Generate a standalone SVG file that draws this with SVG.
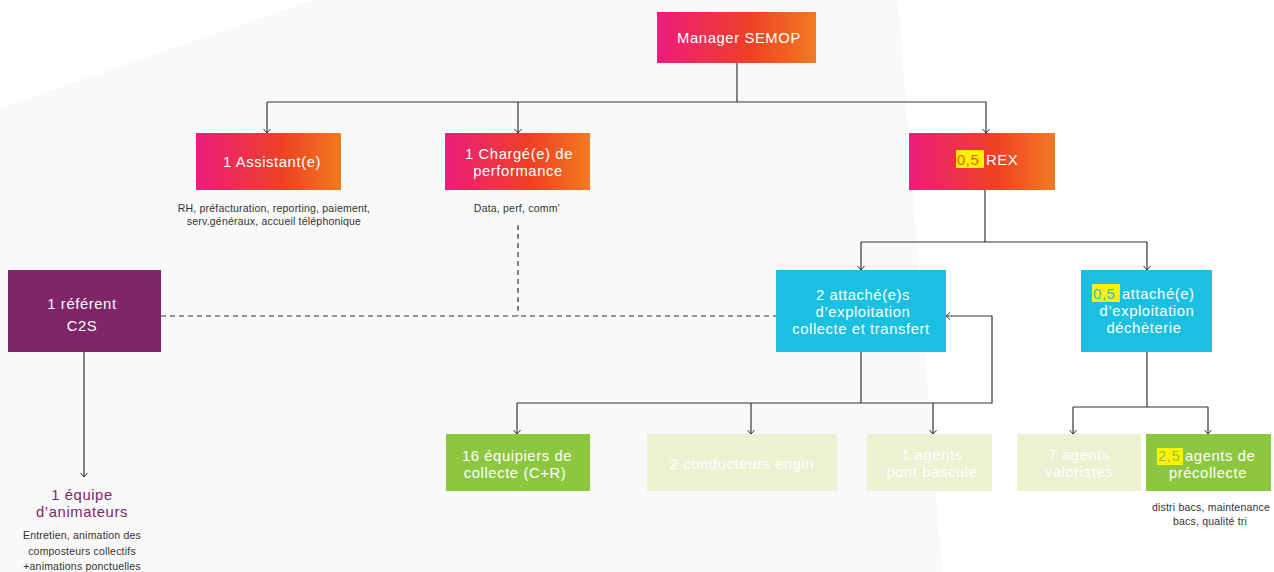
<svg xmlns="http://www.w3.org/2000/svg" width="1274" height="572" viewBox="0 0 1274 572">
<style>
.t{font-family:"Liberation Sans",Arial,sans-serif;font-size:14.8px;letter-spacing:0.6px;fill:#ffffff;text-anchor:middle}
.ts{font-family:"Liberation Sans",Arial,sans-serif;font-size:10.5px;letter-spacing:0.2px;fill:#333333;text-anchor:middle}
.st{text-anchor:start}
.c{fill:none;stroke:#333333;stroke-width:1.2}
.a{marker-end:url(#arr)}
.d{stroke-dasharray:5,4}
.hl{fill:#fff200}
.g{fill:url(#grad)}
.cy{fill:#1bbfdf}
.gr{fill:#8dc63f}
.lg{fill:#eaf2d1}
.pu{fill:#7f2568}
</style>
<defs>
<linearGradient id="grad" x1="0" y1="0" x2="1" y2="0">
<stop offset="0" stop-color="#ec1c7d"/>
<stop offset="0.6" stop-color="#ee4224"/>
<stop offset="1" stop-color="#f47a20"/>
</linearGradient>
<marker id="arr" markerWidth="10" markerHeight="10" refX="7" refY="5" orient="auto" markerUnits="userSpaceOnUse">
<path d="M3,1.5 L7,5 L3,8.5" fill="none" stroke="#333333" stroke-width="1"/>
</marker>
</defs>
<rect x="0" y="0" width="1274" height="572" fill="#ffffff"/>
<polygon points="313,0 898,0 942,572 0,572 0,108" fill="#f9f9f9"/>

<g id="connectors">
<path class="c" d="M737,63 V102"/>
<path class="c" d="M267,102 H986" stroke-width="1.6"/>
<path class="c a" d="M267,102 V133"/>
<path class="c a" d="M518,102 V133"/>
<path class="c a" d="M986,102 V133"/>
<path class="c" d="M985,190 V242"/>
<path class="c" d="M861,242 H1147"/>
<path class="c a" d="M861,242 V270"/>
<path class="c a" d="M1147,242 V270"/>
<path class="c" d="M861,352 V403"/>
<path class="c a" d="M517,403 H992 V316 H946"/>
<path class="c a" d="M517,403 V434"/>
<path class="c a" d="M751,403 V434"/>
<path class="c a" d="M933,403 V434"/>
<path class="c" d="M1147,352 V407"/>
<path class="c" d="M1073,407 H1208"/>
<path class="c a" d="M1073,407 V434"/>
<path class="c a" d="M1208,407 V434"/>
<path class="c a" d="M84,352 V477"/>
<path class="c d" d="M518,225 V316"/>
<path class="c d" d="M161,316 H776"/>
</g>

<g id="manager">
<rect class="g" x="657" y="12" width="159" height="51"/>
<text class="t" x="739" y="43">Manager SEMOP</text>
</g>

<g id="assistant">
<rect class="g" x="196" y="133" width="145" height="57"/>
<text class="t" x="272" y="167">1 Assistant(e)</text>
<text class="ts" x="274" y="212">RH, préfacturation, reporting, paiement,</text>
<text class="ts" x="274" y="225">serv.généraux,  accueil téléphonique</text>
</g>

<g id="charge">
<rect class="g" x="445" y="133" width="145" height="57"/>
<text class="t" x="519" y="159">1 Chargé(e) de</text>
<text class="t" x="518" y="176">performance</text>
<text class="ts" x="517" y="212">Data, perf, comm’</text>
</g>

<g id="rex">
<rect class="g" x="909" y="133" width="146" height="57"/>
<rect class="hl" x="956" y="150" width="28" height="18"/>
<text class="t st" x="957" y="165" style="fill:#f15a24">0,5</text>
<text class="t st" x="986" y="165">REX</text>
</g>

<g id="referent">
<rect class="pu" x="8" y="270" width="153" height="82"/>
<text class="t" x="82" y="309">1 référent</text>
<text class="t" x="82" y="331">C2S</text>
</g>

<g id="equipe">
<text class="t" x="82" y="500" style="fill:#7f2568">1 équipe</text>
<text class="t" x="82" y="517" style="fill:#7f2568">d’animateurs</text>
<text class="ts" x="82" y="539">Entretien, animation des</text>
<text class="ts" x="82" y="555">composteurs collectifs</text>
<text class="ts" x="82" y="570">+animations ponctuelles</text>
</g>

<g id="attache-collecte">
<rect class="cy" x="776" y="270" width="170" height="82"/>
<text class="t" x="863" y="300">2 attaché(e)s</text>
<text class="t" x="863" y="317">d’exploitation</text>
<text class="t" x="861" y="334">collecte et transfert</text>
</g>

<g id="attache-decheterie">
<rect class="cy" x="1081" y="270" width="131" height="82"/>
<rect class="hl" x="1092" y="284" width="28" height="18"/>
<text class="t st" x="1093" y="299" style="fill:#1bbfdf">0,5</text>
<text class="t st" x="1122" y="299">attaché(e)</text>
<text class="t" x="1147" y="316">d’exploitation</text>
<text class="t" x="1144" y="333">déchèterie</text>
</g>

<g id="equipiers">
<rect class="gr" x="446" y="434" width="144" height="57"/>
<text class="t" x="517" y="461">16 équipiers de</text>
<text class="t" x="515" y="478">collecte (C+R)</text>
</g>

<g id="conducteurs">
<rect class="lg" x="647" y="434" width="190" height="57"/>
<text class="t" x="742" y="469">2 conducteurs engin</text>
</g>

<g id="pont-bascule">
<rect class="lg" x="867" y="434" width="125" height="57"/>
<text class="t" x="932" y="460">1 agents</text>
<text class="t" x="932" y="477">pont bascule</text>
</g>

<g id="valoristes">
<rect class="lg" x="1017" y="434" width="124" height="57"/>
<text class="t" x="1079" y="460">7 agents</text>
<text class="t" x="1079" y="477">valoristes</text>
</g>

<g id="precollecte">
<rect class="gr" x="1146" y="434" width="125" height="57"/>
<rect class="hl" x="1157" y="448" width="26" height="17"/>
<text class="t st" x="1158" y="461" style="fill:#8dc63f">2,5</text>
<text class="t st" x="1185" y="461">agents de</text>
<text class="t" x="1208" y="478">précollecte</text>
<text class="ts" x="1211" y="511">distri bacs, maintenance</text>
<text class="ts" x="1210" y="525">bacs, qualité tri</text>
</g>
</svg>
